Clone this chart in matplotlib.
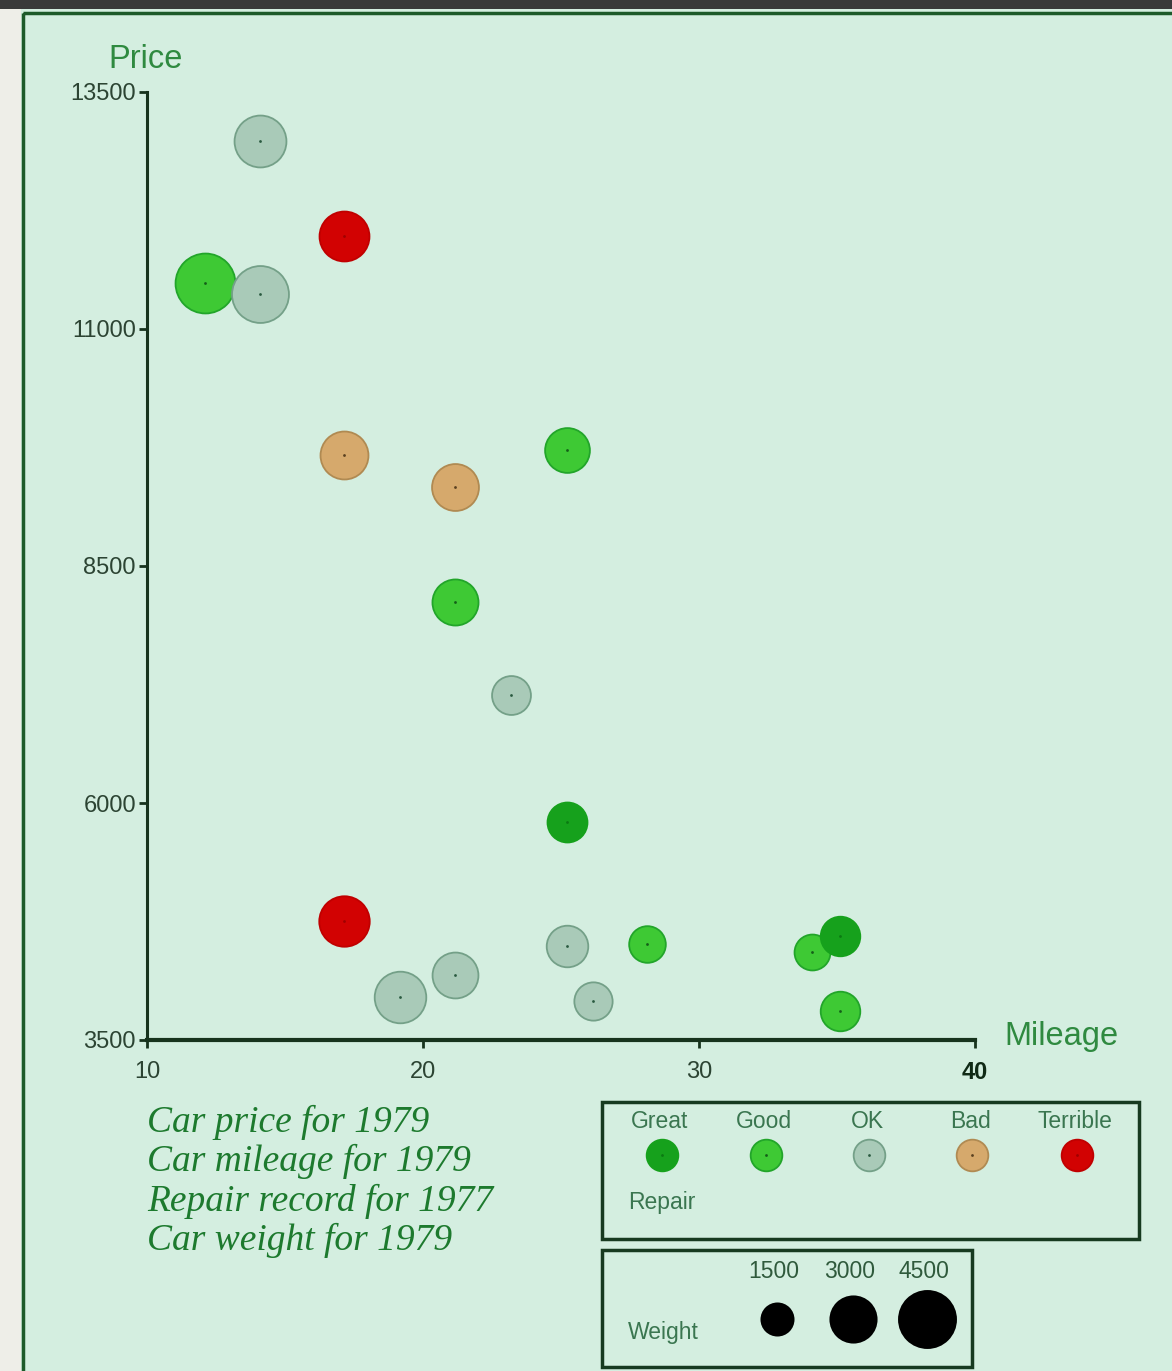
import matplotlib
matplotlib.use("Agg")
import matplotlib.pyplot as plt
from matplotlib.patches import Rectangle

# ---------------- data ----------------
mileage = [14.1, 17.15, 12.1, 14.1, 17.15, 21.15, 25.2, 21.15, 23.2, 25.2, 17.15, 19.15, 21.15,
           25.2, 26.15, 28.1, 34.1, 35.1, 35.1]
price = [12980, 11980, 11490, 11370, 9670, 9330, 9720, 8120, 7140, 5800,
         4760, 3950, 4190, 4490, 3910, 4510, 4430, 4600, 3810]
repair = ['OK', 'Terrible', 'Good', 'OK', 'Bad', 'Bad', 'Good', 'Good', 'OK', 'Great',
          'Terrible', 'OK', 'OK', 'OK', 'OK', 'Good', 'Good', 'Great', 'Good']
weight = [3490, 3230, 4650, 4200, 2980, 2850, 2600, 2750, 1960, 2070,
          3300, 3450, 2730, 2240, 1900, 1740, 1670, 2030, 2030]

repair_levels = ['Great', 'Good', 'OK', 'Bad', 'Terrible']
weight_levels = [1500, 3000, 4500]
x_ticks = [10, 20, 30, 40]
y_ticks = [3500, 6000, 8500, 11000, 13500]
caption_lines = ['Car price for 1979', 'Car mileage for 1979',
                 'Repair record for 1977', 'Car weight for 1979']

# ---------------- style ----------------
face = {'Great': '#16a11c', 'Good': '#3ec934', 'OK': '#a9cab8', 'Bad': '#d6a96c', 'Terrible': '#d20202'}
edge = {'Great': '#16a11c', 'Good': '#22a52a', 'OK': '#74a088', 'Bad': '#b08a52', 'Terrible': '#c00000'}
dotc = {'Great': '#0b7a12', 'Good': '#145f18', 'OK': '#2a5a40', 'Bad': '#5a4020', 'Terrible': '#a00000'}
SIZE_PER_LB = 0.40
BG = '#d4eee0'
TXT_GREEN = '#2f8a40'
TICK_COL = '#2c4433'
AX_COL = '#17331d'

W, H = 1172, 1371
fig = plt.figure(figsize=(W / 100, H / 100), dpi=100)
fig.patch.set_facecolor(BG)

# overlay axes in pixel coordinates for decorations
ov = fig.add_axes([0, 0, 1, 1], zorder=0)
ov.set_xlim(0, W)
ov.set_ylim(H, 0)
ov.axis('off')
ov.add_patch(Rectangle((0, 0), W, 9, facecolor='#3a3a3a', edgecolor='none'))
ov.add_patch(Rectangle((0, 9), 21, H, facecolor='#eeeee8', edgecolor='none'))
ov.add_patch(Rectangle((23, 13), W + 50, H + 50, facecolor='none', edgecolor='#1d5a2a', linewidth=2.5))

# ---------------- main axes ----------------
ax = fig.add_axes([147 / W, 1 - 1040 / H, (975 - 147) / W, (1040 - 92) / H], zorder=2)
ax.set_facecolor('none')
ax.set_xlim(10, 40)
ax.set_ylim(3500, 13500)
for s in ['top', 'right']:
    ax.spines[s].set_visible(False)
ax.spines['left'].set_color(AX_COL)
ax.spines['left'].set_linewidth(2.2)
ax.spines['bottom'].set_color(AX_COL)
ax.spines['bottom'].set_linewidth(3)
ax.set_xticks(x_ticks)
ax.set_yticks(y_ticks)
ax.set_xticklabels([str(t) for t in x_ticks])
ax.set_yticklabels([str(t) for t in y_ticks])
ax.tick_params(axis='both', colors=AX_COL, length=6, width=2, direction='out',
               labelcolor=TICK_COL, labelsize=17)
ax.tick_params(axis='y', pad=2)
ax.tick_params(axis='x', pad=9)
for lab in ax.get_xticklabels() + ax.get_yticklabels():
    lab.set_fontfamily('Liberation Sans')
ax.get_xticklabels()[-1].set_fontweight('bold')
ax.get_xticklabels()[-1].set_color('#102a16')

for i in range(len(mileage)):
    r = repair[i]
    ax.scatter([mileage[i]], [price[i]], s=weight[i] * SIZE_PER_LB, facecolor=face[r],
               edgecolor=edge[r], linewidth=1.3, clip_on=False, zorder=3)
    ax.scatter([mileage[i]], [price[i]], s=4, color=dotc[r], linewidth=0, clip_on=False, zorder=4)

fig.text(146 / W, 1 - 60 / H, 'Price', ha='center', va='center', fontsize=23.5,
         color=TXT_GREEN, family='Liberation Sans')
fig.text(1004 / W, 1 - 1037 / H, 'Mileage', ha='left', va='center', fontsize=23.5,
         color=TXT_GREEN, family='Liberation Sans')

# ---------------- caption ----------------
for k, line in enumerate(caption_lines):
    ov.text(147, 1122 + k * 39.5, line, ha='left', va='center', fontsize=27,
            style='italic', color='#1d7a2e', family='Liberation Serif')

# ---------------- repair legend ----------------
ov.add_patch(Rectangle((602, 1102), 1139 - 602, 1239 - 1102, facecolor='none',
                       edgecolor='#173a20', linewidth=2.5, zorder=1))
leg_x = [662, 766, 869, 972, 1077]
for lvl, lx in zip(repair_levels, leg_x):
    ov.text(lx - 2, 1122, lvl, ha='center', va='center', fontsize=16.5,
            color='#3a7650', family='Liberation Sans')
    ov.scatter([lx], [1155], s=1300 * SIZE_PER_LB, facecolor=face[lvl], edgecolor=edge[lvl],
               linewidth=1.3, zorder=3)
    ov.scatter([lx], [1155], s=4, color=dotc[lvl], linewidth=0, zorder=4)
ov.text(628, 1203, 'Repair', ha='left', va='center', fontsize=16.5,
        color='#3a7650', family='Liberation Sans')

# ---------------- weight legend ----------------
ov.add_patch(Rectangle((602, 1250), 972 - 602, 1367 - 1250, facecolor='none',
                       edgecolor='#173a20', linewidth=2.5, zorder=1))
wx = [777, 853, 927]
for wv, lx in zip(weight_levels, wx):
    ov.text(lx - 3, 1271, str(wv), ha='center', va='center', fontsize=16.5,
            color='#2f5a3c', family='Liberation Sans')
    ov.scatter([lx], [1319], s=wv * SIZE_PER_LB, color='black', linewidth=0, zorder=3)
ov.text(628, 1333, 'Weight', ha='left', va='center', fontsize=16.5,
        color='#3a7650', family='Liberation Sans')

fig.savefig('out.png', dpi=100, facecolor=fig.get_facecolor())
